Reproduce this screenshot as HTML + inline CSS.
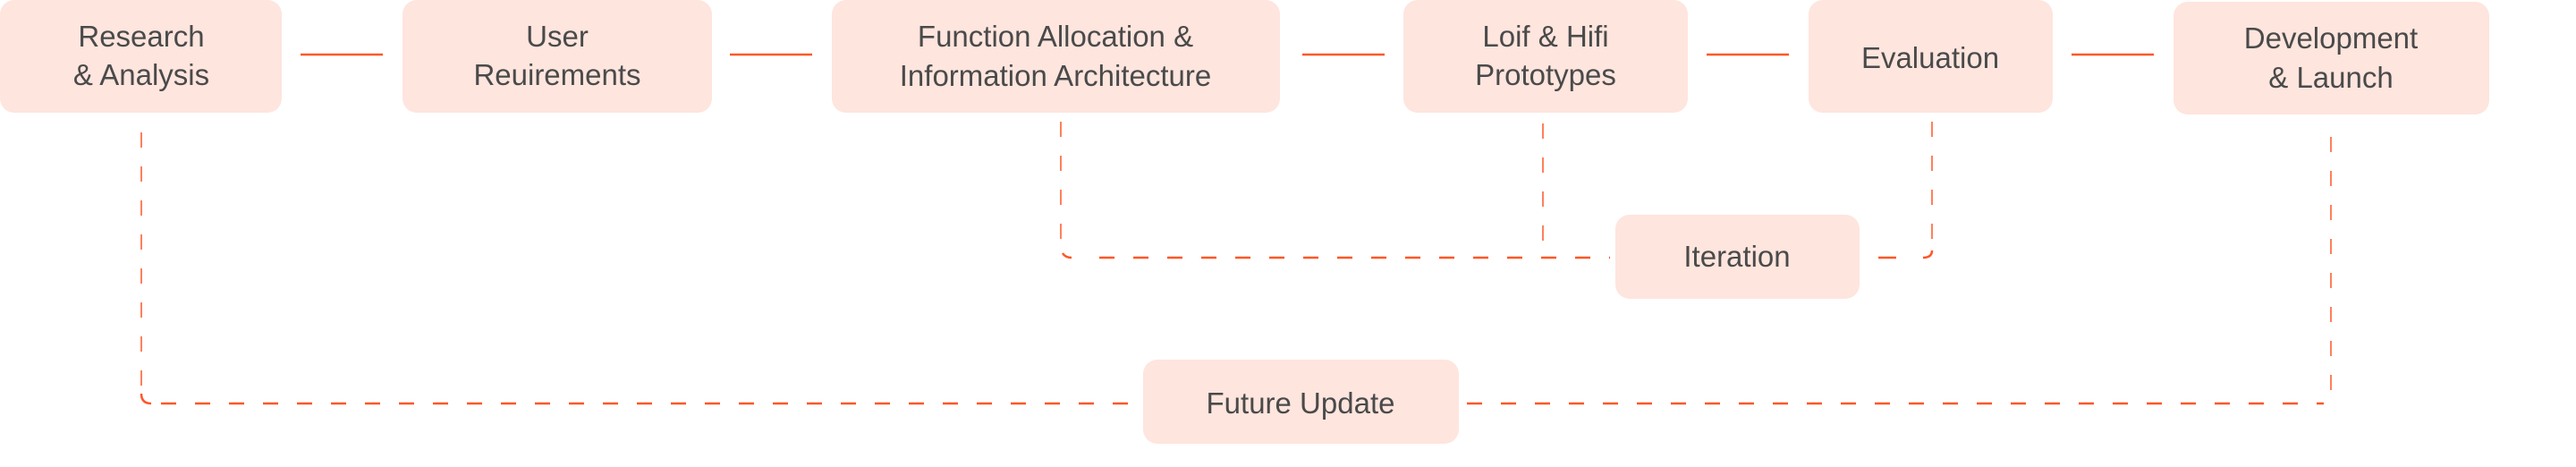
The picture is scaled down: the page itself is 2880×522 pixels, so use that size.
<!DOCTYPE html>
<html><head><meta charset="utf-8"><style>
html,body{margin:0;padding:0;background:#fff;}
svg{display:block;}
text{font-family:"Liberation Sans",sans-serif;font-size:33px;fill:#4a4a4a;text-anchor:middle;}
</style></head><body>
<svg width="2880" height="522" viewBox="0 0 2880 522" xmlns="http://www.w3.org/2000/svg">
<g fill="#fee5de">
<rect x="0" y="0" width="315" height="126" rx="16"/>
<rect x="450" y="0" width="346" height="126" rx="16"/>
<rect x="930" y="0" width="501" height="126" rx="16"/>
<rect x="1569" y="0" width="318" height="126" rx="16"/>
<rect x="2022" y="0" width="273" height="126" rx="16"/>
<rect x="2430" y="2" width="353" height="126" rx="16"/>
<rect x="1806" y="240" width="273" height="94" rx="16"/>
<rect x="1278" y="402" width="353" height="94" rx="16"/>
</g>
<g stroke="#ff5726" stroke-width="2.5">
<line x1="336" y1="61" x2="428" y2="61"/>
<line x1="816" y1="61" x2="908" y2="61"/>
<line x1="1456" y1="61" x2="1548" y2="61"/>
<line x1="1908" y1="61" x2="2000" y2="61"/>
<line x1="2316" y1="61" x2="2408" y2="61"/>
</g>
<g fill="none" stroke="#ff5726">
<line x1="158" y1="148" x2="158" y2="440" stroke-width="1.5" stroke-dasharray="17 21"/>
<path d="M158 440 Q158 451 169 451" stroke-width="2.5"/>
<line x1="180" y1="451" x2="1270" y2="451" stroke-width="2.5" stroke-dasharray="17 21"/>
<line x1="1640" y1="451" x2="2598" y2="451" stroke-width="2.5" stroke-dasharray="17 21"/>
<line x1="2606" y1="153" x2="2606" y2="436" stroke-width="1.5" stroke-dasharray="17 21"/>
<line x1="1186" y1="136" x2="1186" y2="278" stroke-width="1.5" stroke-dasharray="17 21"/>
<path d="M1188 283 Q1191 288 1198 288" stroke-width="2.5"/>
<line x1="1229" y1="288" x2="1800" y2="288" stroke-width="2.5" stroke-dasharray="17 21"/>
<line x1="1725" y1="138" x2="1725" y2="271" stroke-width="1.5" stroke-dasharray="17 21"/>
<line x1="2160" y1="136" x2="2160" y2="268" stroke-width="1.5" stroke-dasharray="17 21"/>
<path d="M2160 280 Q2160 288 2150 288" stroke-width="2.5"/>
<line x1="2100" y1="288" x2="2120" y2="288" stroke-width="2.5"/>
</g>
<text x="158" y="52">Research</text>
<text x="158" y="95">&amp; Analysis</text>
<text x="623" y="52">User</text>
<text x="623" y="95">Reuirements</text>
<text x="1180" y="52">Function Allocation &amp;</text>
<text x="1180" y="96">Information Architecture</text>
<text x="1728" y="52">Loif &amp; Hifi</text>
<text x="1728" y="95">Prototypes</text>
<text x="2158" y="76">Evaluation</text>
<text x="2606" y="54">Development</text>
<text x="2606" y="98">&amp; Launch</text>
<text x="1942" y="298">Iteration</text>
<text x="1454" y="462">Future Update</text>
</svg>
</body></html>
